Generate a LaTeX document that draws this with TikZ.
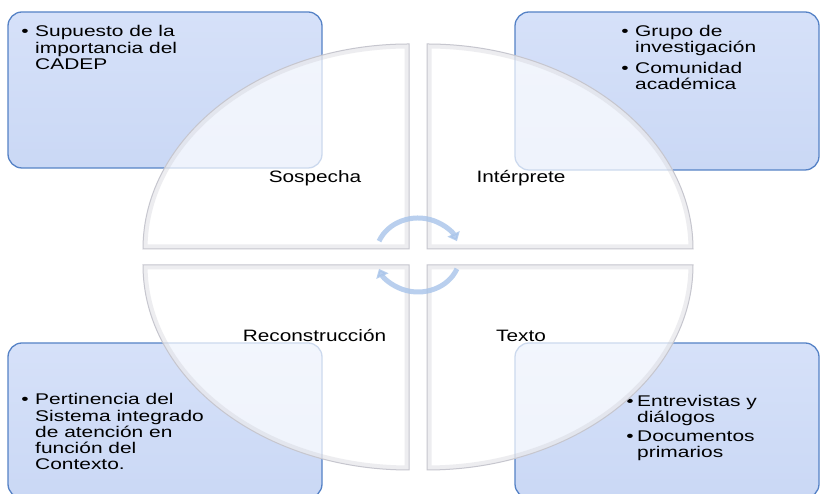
\documentclass[tikz,border=0pt]{standalone}
\usepackage{fontspec}
\setmainfont{Liberation Sans}
\newfontfamily\boxfont[FakeStretch=1.35]{Liberation Sans}
\newfontfamily\labfont[FakeStretch=1.26]{Liberation Sans}
\usetikzlibrary{arrows.meta}
\definecolor{boxtop}{RGB}{214,225,249}
\definecolor{boxbot}{RGB}{202,216,245}
\definecolor{boxline}{RGB}{85,130,198}
\definecolor{rim}{RGB}{198,198,206}
\definecolor{arrowblue}{RGB}{168,196,234}
\begin{document}
\begin{tikzpicture}[x=1pt,y=1pt,
  cbox/.style={rounded corners=14pt, top color=boxtop, bottom color=boxbot, draw=boxline, line width=1.3pt},
  btxt/.style={inner sep=0pt, anchor=base west, font=\boxfont\fontsize{15.5pt}{16.5pt}\selectfont},
  bdot/.style={inner sep=0pt, anchor=base, font=\boxfont\fontsize{15.5pt}{16.5pt}\selectfont},
  lab/.style={inner sep=0pt, anchor=base, font=\labfont\fontsize{16.5pt}{18pt}\selectfont},
  qtl/.style={insert path={(409,245) -- (143,245) arc[start angle=180,end angle=90,x radius=266pt,y radius=205pt] -- cycle}},
  qtr/.style={insert path={(427,245) -- (427,450) arc[start angle=90,end angle=0,x radius=266pt,y radius=205pt] -- cycle}},
  qbl/.style={insert path={(409,229) -- (409,24) arc[start angle=270,end angle=180,x radius=266pt,y radius=205pt] -- cycle}},
  qbr/.style={insert path={(427,229) -- (693,229) arc[start angle=0,end angle=-90,x radius=266pt,y radius=205pt] -- cycle}},
  qfill/.style={fill=white, fill opacity=0.7},
  qbevel/.style={draw=rim, line width=9pt, opacity=0.3},
  qedge/.style={draw=rim, line width=1pt},
  arr/.style={draw=arrowblue, line width=5pt, opacity=0.8, -{Triangle[width=13pt,length=8pt]}}
]
\useasboundingbox (0,0) rectangle (820,494);
\clip (0,0) rectangle (820,494);
\fill[white] (0,0) rectangle (820,494);

% corner boxes
\draw[cbox] (8,326) rectangle (322,482);
\draw[cbox] (515,324) rectangle (819,482);
\draw[cbox] (8,-4) rectangle (322,151);
\draw[cbox] (515,-4) rectangle (819,151);

% box texts
\node[bdot] (d1) at (25,457) {•};
\node[btxt] (t1) at (35,457) {Supuesto de la};
\node[btxt] (t2) at (35,440.5) {importancia del};
\node[btxt] (t3) at (35,424) {CADEP};

\node[bdot] (d2) at (625,457) {•};
\node[btxt] (t4) at (635,457) {Grupo de};
\node[btxt] (t5) at (635,441) {investigación};
\node[bdot] (d3) at (625,420) {•};
\node[btxt] (t6) at (635,420) {Comunidad};
\node[btxt] (t7) at (635,404) {académica};

\node[bdot] (d4) at (25,89) {•};
\node[btxt] (t8) at (35,89) {Pertinencia del};
\node[btxt] (t9) at (35,72.5) {Sistema integrado};
\node[btxt] (t10) at (35,56.5) {de atención en};
\node[btxt] (t11) at (35,40) {función del};
\node[btxt] (t12) at (35,24) {Contexto.};

\node[bdot] (d5) at (630,87) {•};
\node[btxt] (t13) at (637,87) {Entrevistas y};
\node[btxt] (t14) at (637,71) {diálogos};
\node[bdot] (d6) at (630,52) {•};
\node[btxt] (t15) at (637,52) {Documentos};
\node[btxt] (t16) at (637,36) {primarios};

% quarter pieces
\fill[qfill, qtl];
\begin{scope}\clip[qtl]; \draw[qbevel, qtl];\end{scope}
\draw[qedge, qtl];
\fill[qfill, qtr];
\begin{scope}\clip[qtr]; \draw[qbevel, qtr];\end{scope}
\draw[qedge, qtr];
\fill[qfill, qbl];
\begin{scope}\clip[qbl]; \draw[qbevel, qbl];\end{scope}
\draw[qedge, qbl];
\fill[qfill, qbr];
\begin{scope}\clip[qbr]; \draw[qbevel, qbr];\end{scope}
\draw[qedge, qbr];

% labels
\node[lab] (l1) at (315,311) {Sospecha};
\node[lab] (l2) at (521,311) {Intérprete};
\node[lab] (l3) at (314.5,152) {Reconstrucción};
\node[lab] (l4) at (521,152) {Texto};

% center cycle arrows
\coordinate (ctr) at (418,239);
\draw[arr] (ctr) ++(158:42pt and 37pt) arc[start angle=158,end angle=22,x radius=42pt,y radius=37pt];
\draw[arr] (ctr) ++(-22:42pt and 37pt) arc[start angle=-22,end angle=-158,x radius=42pt,y radius=37pt];
\end{tikzpicture}
\end{document}
